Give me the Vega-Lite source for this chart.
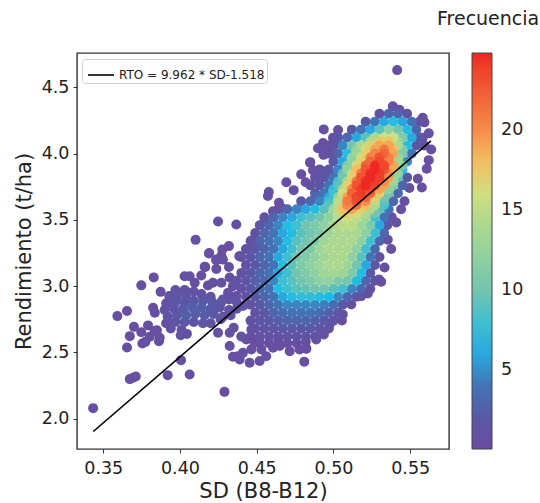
{"$schema":"https://vega.github.io/schema/vega-lite/v6.json","width":372,"height":396,"autosize":"none","padding":{"left":77,"top":53,"right":91,"bottom":54},"background":"white","view":{"stroke":"#333","strokeWidth":1.4},
"title":{"text":"Frecuencia","anchor":"start","frame":"group","dx":360,"offset":24,"fontSize":19,"fontWeight":"normal","font":"DejaVu Sans","color":"#222"},
"config":{"font":"DejaVu Sans"},
"layer":[
{"data":{"values":[
{"sd":0.3434,"rto":2.08,"f":0.5},{"sd":0.429,"rto":2.203,"f":0.5},{"sd":0.4063,"rto":2.334,"f":0.5},{"sd":0.392,"rto":2.329,"f":0.5},{"sd":0.3712,"rto":2.319,"f":0.5},{"sd":0.3694,"rto":2.309,"f":0.5},{"sd":0.3673,"rto":2.299,"f":0.5},{"sd":0.4007,"rto":2.442,"f":0.5},{"sd":0.481,"rto":2.43,"f":0.5},{"sd":0.3655,"rto":2.538,"f":0.5},{"sd":0.3755,"rto":2.567,"f":0.5},{"sd":0.3775,"rto":2.58,"f":0.5},{"sd":0.3863,"rto":2.585,"f":0.5},{"sd":0.3868,"rto":2.61,"f":0.5},{"sd":0.3673,"rto":2.623,"f":0.5},{"sd":0.3592,"rto":2.774,"f":0.5},{"sd":0.3655,"rto":2.812,"f":0.5},{"sd":0.37,"rto":2.693,"f":0.5},{"sd":0.3792,"rto":2.704,"f":0.5},{"sd":0.3748,"rto":2.653,"f":0.5},{"sd":0.3803,"rto":2.618,"f":0.5},{"sd":0.3835,"rto":2.661,"f":0.5},{"sd":0.385,"rto":2.668,"f":0.5},{"sd":0.3825,"rto":2.837,"f":0.5},{"sd":0.3836,"rto":2.8,"f":0.5},{"sd":0.3748,"rto":3.006,"f":0.5},{"sd":0.3829,"rto":3.066,"f":0.5},{"sd":0.3874,"rto":2.957,"f":0.5},
{"sd":0.397,"rto":2.97,"f":1},{"sd":0.403,"rto":2.97,"f":1},{"sd":0.393,"rto":2.925,"f":1},{"sd":0.398,"rto":2.925,"f":1.5},{"sd":0.404,"rto":2.93,"f":1.5},{"sd":0.409,"rto":2.96,"f":1},{"sd":0.414,"rto":2.94,"f":1},{"sd":0.42,"rto":2.92,"f":1},{"sd":0.391,"rto":2.87,"f":1},{"sd":0.397,"rto":2.88,"f":1.5},{"sd":0.403,"rto":2.88,"f":2},{"sd":0.409,"rto":2.89,"f":2},{"sd":0.415,"rto":2.89,"f":2},{"sd":0.421,"rto":2.88,"f":2},{"sd":0.427,"rto":2.88,"f":1.5},{"sd":0.432,"rto":2.9,"f":1},{"sd":0.437,"rto":2.88,"f":1.2},{"sd":0.441,"rto":2.85,"f":1.5},{"sd":0.39,"rto":2.82,"f":1},{"sd":0.396,"rto":2.83,"f":1.5},{"sd":0.402,"rto":2.83,"f":2.2},{"sd":0.408,"rto":2.84,"f":2.5},{"sd":0.414,"rto":2.84,"f":2.5},{"sd":0.42,"rto":2.83,"f":2.2},{"sd":0.426,"rto":2.84,"f":1.5},{"sd":0.432,"rto":2.82,"f":1},{"sd":0.437,"rto":2.83,"f":1.2},{"sd":0.392,"rto":2.77,"f":1.2},{"sd":0.398,"rto":2.78,"f":2},{"sd":0.404,"rto":2.78,"f":2.5},{"sd":0.41,"rto":2.79,"f":2.3},{"sd":0.416,"rto":2.78,"f":2.3},{"sd":0.422,"rto":2.79,"f":1.8},{"sd":0.428,"rto":2.77,"f":1.1},{"sd":0.433,"rto":2.78,"f":1},{"sd":0.391,"rto":2.72,"f":1},{"sd":0.397,"rto":2.73,"f":1.5},{"sd":0.403,"rto":2.73,"f":1.8},{"sd":0.409,"rto":2.73,"f":1.5},{"sd":0.415,"rto":2.72,"f":1.5},{"sd":0.42,"rto":2.72,"f":1.2},{"sd":0.4265,"rto":2.75,"f":1},{"sd":0.394,"rto":2.68,"f":1},{"sd":0.401,"rto":2.67,"f":1},{"sd":0.4045,"rto":2.64,"f":1},{"sd":0.4005,"rto":2.63,"f":1},
{"sd":0.403,"rto":3.075,"f":0.7},{"sd":0.4063,"rto":3.075,"f":0.7},{"sd":0.4096,"rto":3.025,"f":0.7},{"sd":0.4139,"rto":3.08,"f":0.7},{"sd":0.4165,"rto":3.145,"f":0.7},{"sd":0.419,"rto":3.25,"f":0.7},{"sd":0.4237,"rto":3.13,"f":0.7},{"sd":0.4319,"rto":3.145,"f":0.7},{"sd":0.427,"rto":3.23,"f":0.7},{"sd":0.4388,"rto":3.226,"f":0.7},{"sd":0.427,"rto":3.025,"f":0.7},{"sd":0.4324,"rto":3.065,"f":0.7},{"sd":0.4182,"rto":3.005,"f":0.7},{"sd":0.4041,"rto":2.96,"f":0.7},{"sd":0.4237,"rto":3.2,"f":0.7},{"sd":0.4215,"rto":3.025,"f":0.7},{"sd":0.4345,"rto":3.0,"f":0.7},{"sd":0.4313,"rto":2.95,"f":0.7},{"sd":0.4367,"rto":2.925,"f":0.8},{"sd":0.428,"rto":2.9,"f":1},
{"sd":0.4248,"rto":2.648,"f":0.5},{"sd":0.4324,"rto":2.648,"f":0.5},{"sd":0.435,"rto":2.686,"f":0.5},{"sd":0.4324,"rto":2.548,"f":0.5},{"sd":0.4345,"rto":2.467,"f":0.5},{"sd":0.4378,"rto":2.472,"f":0.5},{"sd":0.4389,"rto":2.447,"f":0.5},{"sd":0.4454,"rto":2.422,"f":0.5},{"sd":0.4519,"rto":2.435,"f":0.5},{"sd":0.4562,"rto":2.472,"f":0.5},{"sd":0.4606,"rto":2.535,"f":0.5},{"sd":0.465,"rto":2.548,"f":0.5},{"sd":0.4715,"rto":2.51,"f":0.5},{"sd":0.4779,"rto":2.523,"f":0.5},{"sd":0.4823,"rto":2.528,"f":0.5},{"sd":0.441,"rto":2.497,"f":0.5},{"sd":0.4465,"rto":2.523,"f":0.5},{"sd":0.4486,"rto":2.573,"f":0.5},{"sd":0.4399,"rto":2.62,"f":0.5},{"sd":0.4465,"rto":2.673,"f":0.5},{"sd":0.4432,"rto":2.598,"f":0.5},{"sd":0.4888,"rto":2.598,"f":0.5},{"sd":0.453,"rto":2.523,"f":0.5},{"sd":0.452,"rto":2.58,"f":0.5},{"sd":0.458,"rto":2.57,"f":0.5},{"sd":0.464,"rto":2.59,"f":0.5},{"sd":0.47,"rto":2.57,"f":0.5},{"sd":0.476,"rto":2.57,"f":0.6},{"sd":0.482,"rto":2.58,"f":0.6},
{"sd":0.4102,"rto":3.349,"f":0.5},{"sd":0.4248,"rto":3.487,"f":0.5},{"sd":0.4367,"rto":3.465,"f":0.5},{"sd":0.4189,"rto":3.246,"f":0.5},{"sd":0.4276,"rto":3.276,"f":0.5},{"sd":0.4319,"rto":3.302,"f":0.5},{"sd":0.4236,"rto":3.196,"f":0.5},{"sd":0.428,"rto":3.2,"f":0.5},{"sd":0.4161,"rto":3.146,"f":0.5},{"sd":0.4388,"rto":3.226,"f":0.5},{"sd":0.4471,"rto":3.347,"f":0.5},{"sd":0.4465,"rto":3.289,"f":0.5},{"sd":0.4515,"rto":3.33,"f":0.5},{"sd":0.4573,"rto":3.68,"f":0.5},{"sd":0.4579,"rto":3.709,"f":0.5},{"sd":0.4645,"rto":3.628,"f":0.5},{"sd":0.4606,"rto":3.565,"f":0.5},{"sd":0.4671,"rto":3.583,"f":0.5},{"sd":0.4551,"rto":3.49,"f":0.5},{"sd":0.4693,"rto":3.784,"f":0.5},{"sd":0.4741,"rto":3.724,"f":0.5},{"sd":0.479,"rto":3.843,"f":0.5},{"sd":0.4819,"rto":3.784,"f":0.5},{"sd":0.4848,"rto":3.93,"f":0.5},{"sd":0.4866,"rto":3.875,"f":0.5},{"sd":0.4899,"rto":4.04,"f":0.5},{"sd":0.4932,"rto":4.08,"f":0.5},{"sd":0.4884,"rto":3.68,"f":3},{"sd":0.4768,"rto":3.578,"f":4.5},
{"sd":0.5415,"rto":4.629,"f":0.5},{"sd":0.4937,"rto":4.182,"f":0.5},{"sd":0.503,"rto":4.177,"f":0.5},{"sd":0.4997,"rto":4.119,"f":0.5},{"sd":0.492,"rto":4.036,"f":0.5},{"sd":0.4965,"rto":4.06,"f":0.5},{"sd":0.5012,"rto":4.07,"f":0.5},{"sd":0.4849,"rto":3.935,"f":0.5},{"sd":0.4887,"rto":3.817,"f":0.5},{"sd":0.4931,"rto":3.867,"f":0.5},{"sd":0.4899,"rto":3.679,"f":2.5},{"sd":0.4975,"rto":3.85,"f":1.5},{"sd":0.4935,"rto":3.99,"f":0.7},{"sd":0.4985,"rto":4.0,"f":0.7},
{"sd":0.5582,"rto":4.269,"f":0.5},{"sd":0.5593,"rto":4.235,"f":0.5},{"sd":0.5621,"rto":4.152,"f":0.5},{"sd":0.5582,"rto":4.119,"f":0.5},{"sd":0.5637,"rto":4.03,"f":0.5},{"sd":0.5593,"rto":4.06,"f":0.5},{"sd":0.5621,"rto":3.95,"f":0.5},{"sd":0.5608,"rto":3.885,"f":0.5},{"sd":0.555,"rto":3.81,"f":0.5},{"sd":0.5576,"rto":3.744,"f":0.5},{"sd":0.5495,"rto":3.74,"f":0.7},{"sd":0.5463,"rto":3.64,"f":0.7},{"sd":0.5441,"rto":3.58,"f":0.7},{"sd":0.5409,"rto":3.48,"f":0.7},{"sd":0.5376,"rto":3.28,"f":0.5},{"sd":0.5354,"rto":3.35,"f":0.7},{"sd":0.5333,"rto":3.14,"f":0.5},{"sd":0.5387,"rto":4.357,"f":0.5},{"sd":0.543,"rto":4.33,"f":0.5},{"sd":0.5311,"rto":3.033,"f":0.5},{"sd":0.5297,"rto":3.05,"f":0.5},{"sd":0.5224,"rto":2.945,"f":0.5},{"sd":0.5181,"rto":2.925,"f":0.5},{"sd":0.5116,"rto":2.862,"f":0.7},{"sd":0.5061,"rto":2.787,"f":0.5},{"sd":0.5055,"rto":2.741,"f":0.5},{"sd":0.4975,"rto":2.711,"f":0.5},{"sd":0.4938,"rto":2.636,"f":0.5},{"sd":0.4823,"rto":2.53,"f":0.5},
{"sd":0.53,"rto":4.3,"f":1},{"sd":0.536,"rto":4.3,"f":3},{"sd":0.542,"rto":4.3,"f":3},{"sd":0.548,"rto":4.3,"f":1},
{"sd":0.521,"rto":4.24,"f":2},{"sd":0.527,"rto":4.24,"f":4},{"sd":0.533,"rto":4.24,"f":6},{"sd":0.539,"rto":4.24,"f":7},{"sd":0.545,"rto":4.24,"f":6},{"sd":0.551,"rto":4.24,"f":4},{"sd":0.556,"rto":4.24,"f":1},
{"sd":0.512,"rto":4.18,"f":2},{"sd":0.518,"rto":4.18,"f":4},{"sd":0.524,"rto":4.18,"f":6},{"sd":0.53,"rto":4.18,"f":9},{"sd":0.536,"rto":4.18,"f":12},{"sd":0.542,"rto":4.18,"f":10},{"sd":0.548,"rto":4.18,"f":7},{"sd":0.554,"rto":4.18,"f":3},
{"sd":0.503,"rto":4.12,"f":2},{"sd":0.509,"rto":4.12,"f":3},{"sd":0.515,"rto":4.12,"f":6},{"sd":0.521,"rto":4.12,"f":9},{"sd":0.527,"rto":4.12,"f":14},{"sd":0.533,"rto":4.12,"f":16},{"sd":0.539,"rto":4.12,"f":16},{"sd":0.545,"rto":4.12,"f":11},{"sd":0.551,"rto":4.12,"f":6},{"sd":0.556,"rto":4.12,"f":2},
{"sd":0.5,"rto":4.06,"f":1},{"sd":0.506,"rto":4.06,"f":5},{"sd":0.512,"rto":4.06,"f":10},{"sd":0.518,"rto":4.06,"f":14},{"sd":0.524,"rto":4.06,"f":17},{"sd":0.53,"rto":4.06,"f":19},{"sd":0.536,"rto":4.06,"f":19},{"sd":0.542,"rto":4.06,"f":14},{"sd":0.548,"rto":4.06,"f":7},{"sd":0.554,"rto":4.06,"f":2},
{"sd":0.497,"rto":4.0,"f":1},{"sd":0.503,"rto":4.0,"f":3},{"sd":0.509,"rto":4.0,"f":7},{"sd":0.515,"rto":4.0,"f":13},{"sd":0.521,"rto":4.0,"f":17},{"sd":0.527,"rto":4.0,"f":20.5},{"sd":0.533,"rto":4.0,"f":22},{"sd":0.539,"rto":4.0,"f":19},{"sd":0.545,"rto":4.0,"f":11},{"sd":0.551,"rto":4.0,"f":4},
{"sd":0.5,"rto":3.94,"f":2},{"sd":0.506,"rto":3.94,"f":6},{"sd":0.512,"rto":3.94,"f":12},{"sd":0.518,"rto":3.94,"f":17},{"sd":0.524,"rto":3.94,"f":22},{"sd":0.53,"rto":3.94,"f":23.5},{"sd":0.536,"rto":3.94,"f":20.5},{"sd":0.542,"rto":3.94,"f":13},{"sd":0.548,"rto":3.94,"f":5},
{"sd":0.491,"rto":3.88,"f":1},{"sd":0.497,"rto":3.88,"f":2},{"sd":0.503,"rto":3.88,"f":5},{"sd":0.509,"rto":3.88,"f":12},{"sd":0.515,"rto":3.88,"f":18},{"sd":0.521,"rto":3.88,"f":23},{"sd":0.527,"rto":3.88,"f":24.7},{"sd":0.533,"rto":3.88,"f":23},{"sd":0.539,"rto":3.88,"f":17},{"sd":0.545,"rto":3.88,"f":7},
{"sd":0.488,"rto":3.82,"f":1},{"sd":0.494,"rto":3.82,"f":2},{"sd":0.5,"rto":3.82,"f":4},{"sd":0.506,"rto":3.82,"f":10},{"sd":0.512,"rto":3.82,"f":17},{"sd":0.518,"rto":3.82,"f":23},{"sd":0.524,"rto":3.82,"f":24.7},{"sd":0.53,"rto":3.82,"f":24},{"sd":0.536,"rto":3.82,"f":19},{"sd":0.542,"rto":3.82,"f":9},{"sd":0.548,"rto":3.82,"f":2},
{"sd":0.485,"rto":3.76,"f":1},{"sd":0.491,"rto":3.76,"f":2},{"sd":0.497,"rto":3.76,"f":4},{"sd":0.503,"rto":3.76,"f":9},{"sd":0.509,"rto":3.76,"f":17},{"sd":0.515,"rto":3.76,"f":23},{"sd":0.521,"rto":3.76,"f":24.7},{"sd":0.527,"rto":3.76,"f":23},{"sd":0.533,"rto":3.76,"f":19},{"sd":0.539,"rto":3.76,"f":11},{"sd":0.545,"rto":3.76,"f":3},
{"sd":0.488,"rto":3.7,"f":2},{"sd":0.494,"rto":3.7,"f":4},{"sd":0.5,"rto":3.7,"f":8},{"sd":0.506,"rto":3.7,"f":16},{"sd":0.512,"rto":3.7,"f":22},{"sd":0.518,"rto":3.7,"f":24},{"sd":0.524,"rto":3.7,"f":22},{"sd":0.53,"rto":3.7,"f":17},{"sd":0.536,"rto":3.7,"f":10},{"sd":0.542,"rto":3.7,"f":3},
{"sd":0.479,"rto":3.64,"f":2},{"sd":0.485,"rto":3.64,"f":3},{"sd":0.491,"rto":3.64,"f":5},{"sd":0.497,"rto":3.64,"f":8},{"sd":0.503,"rto":3.64,"f":15},{"sd":0.509,"rto":3.64,"f":21},{"sd":0.515,"rto":3.64,"f":23},{"sd":0.521,"rto":3.64,"f":20},{"sd":0.527,"rto":3.64,"f":15},{"sd":0.533,"rto":3.64,"f":9},{"sd":0.539,"rto":3.64,"f":3},
{"sd":0.464,"rto":3.58,"f":1},{"sd":0.47,"rto":3.58,"f":3},{"sd":0.476,"rto":3.58,"f":5},{"sd":0.482,"rto":3.58,"f":6},{"sd":0.488,"rto":3.58,"f":7},{"sd":0.494,"rto":3.58,"f":9},{"sd":0.5,"rto":3.58,"f":13},{"sd":0.506,"rto":3.58,"f":18},{"sd":0.512,"rto":3.58,"f":19},{"sd":0.518,"rto":3.58,"f":17},{"sd":0.524,"rto":3.58,"f":14},{"sd":0.53,"rto":3.58,"f":9},{"sd":0.536,"rto":3.58,"f":4},
{"sd":0.455,"rto":3.52,"f":1},{"sd":0.461,"rto":3.52,"f":3},{"sd":0.467,"rto":3.52,"f":5},{"sd":0.473,"rto":3.52,"f":6},{"sd":0.479,"rto":3.52,"f":8},{"sd":0.485,"rto":3.52,"f":9},{"sd":0.491,"rto":3.52,"f":10},{"sd":0.497,"rto":3.52,"f":12},{"sd":0.503,"rto":3.52,"f":15},{"sd":0.509,"rto":3.52,"f":16},{"sd":0.515,"rto":3.52,"f":15},{"sd":0.521,"rto":3.52,"f":13},{"sd":0.527,"rto":3.52,"f":8},{"sd":0.533,"rto":3.52,"f":4},{"sd":0.538,"rto":3.52,"f":1},
{"sd":0.452,"rto":3.46,"f":2},{"sd":0.458,"rto":3.46,"f":3},{"sd":0.464,"rto":3.46,"f":5},{"sd":0.47,"rto":3.46,"f":7},{"sd":0.476,"rto":3.46,"f":8},{"sd":0.482,"rto":3.46,"f":10},{"sd":0.488,"rto":3.46,"f":11},{"sd":0.494,"rto":3.46,"f":12},{"sd":0.5,"rto":3.46,"f":14},{"sd":0.506,"rto":3.46,"f":15},{"sd":0.512,"rto":3.46,"f":15},{"sd":0.518,"rto":3.46,"f":13},{"sd":0.524,"rto":3.46,"f":11},{"sd":0.53,"rto":3.46,"f":6},{"sd":0.535,"rto":3.46,"f":2},
{"sd":0.449,"rto":3.4,"f":1},{"sd":0.455,"rto":3.4,"f":3},{"sd":0.461,"rto":3.4,"f":4},{"sd":0.467,"rto":3.4,"f":6},{"sd":0.473,"rto":3.4,"f":7},{"sd":0.479,"rto":3.4,"f":9},{"sd":0.485,"rto":3.4,"f":10},{"sd":0.491,"rto":3.4,"f":11},{"sd":0.497,"rto":3.4,"f":13},{"sd":0.503,"rto":3.4,"f":14},{"sd":0.509,"rto":3.4,"f":14},{"sd":0.515,"rto":3.4,"f":14},{"sd":0.521,"rto":3.4,"f":12},{"sd":0.527,"rto":3.4,"f":8},{"sd":0.533,"rto":3.4,"f":3},
{"sd":0.446,"rto":3.34,"f":1},{"sd":0.452,"rto":3.34,"f":3},{"sd":0.458,"rto":3.34,"f":4},{"sd":0.464,"rto":3.34,"f":5},{"sd":0.47,"rto":3.34,"f":7},{"sd":0.476,"rto":3.34,"f":9},{"sd":0.482,"rto":3.34,"f":10},{"sd":0.488,"rto":3.34,"f":11},{"sd":0.494,"rto":3.34,"f":13},{"sd":0.5,"rto":3.34,"f":14},{"sd":0.506,"rto":3.34,"f":14},{"sd":0.512,"rto":3.34,"f":14},{"sd":0.518,"rto":3.34,"f":12},{"sd":0.524,"rto":3.34,"f":8},{"sd":0.53,"rto":3.34,"f":3},
{"sd":0.443,"rto":3.28,"f":1},{"sd":0.449,"rto":3.28,"f":2},{"sd":0.455,"rto":3.28,"f":3},{"sd":0.461,"rto":3.28,"f":4},{"sd":0.467,"rto":3.28,"f":6},{"sd":0.473,"rto":3.28,"f":8},{"sd":0.479,"rto":3.28,"f":10},{"sd":0.485,"rto":3.28,"f":11},{"sd":0.491,"rto":3.28,"f":13},{"sd":0.497,"rto":3.28,"f":14},{"sd":0.503,"rto":3.28,"f":14},{"sd":0.509,"rto":3.28,"f":14},{"sd":0.515,"rto":3.28,"f":12},{"sd":0.521,"rto":3.28,"f":8},{"sd":0.527,"rto":3.28,"f":3},
{"sd":0.44,"rto":3.22,"f":1},{"sd":0.446,"rto":3.22,"f":2},{"sd":0.452,"rto":3.22,"f":3},{"sd":0.458,"rto":3.22,"f":4},{"sd":0.464,"rto":3.22,"f":6},{"sd":0.47,"rto":3.22,"f":8},{"sd":0.476,"rto":3.22,"f":10},{"sd":0.482,"rto":3.22,"f":11},{"sd":0.488,"rto":3.22,"f":12},{"sd":0.494,"rto":3.22,"f":13},{"sd":0.5,"rto":3.22,"f":14},{"sd":0.506,"rto":3.22,"f":14},{"sd":0.512,"rto":3.22,"f":12},{"sd":0.518,"rto":3.22,"f":9},{"sd":0.524,"rto":3.22,"f":4},{"sd":0.53,"rto":3.22,"f":1},
{"sd":0.443,"rto":3.16,"f":1},{"sd":0.449,"rto":3.16,"f":2},{"sd":0.455,"rto":3.16,"f":3},{"sd":0.461,"rto":3.16,"f":4},{"sd":0.467,"rto":3.16,"f":7},{"sd":0.473,"rto":3.16,"f":9},{"sd":0.479,"rto":3.16,"f":11},{"sd":0.485,"rto":3.16,"f":12},{"sd":0.491,"rto":3.16,"f":13},{"sd":0.497,"rto":3.16,"f":14},{"sd":0.503,"rto":3.16,"f":14},{"sd":0.509,"rto":3.16,"f":13},{"sd":0.515,"rto":3.16,"f":10},{"sd":0.521,"rto":3.16,"f":6},{"sd":0.527,"rto":3.16,"f":2},
{"sd":0.44,"rto":3.1,"f":1},{"sd":0.446,"rto":3.1,"f":2},{"sd":0.452,"rto":3.1,"f":3},{"sd":0.458,"rto":3.1,"f":4},{"sd":0.464,"rto":3.1,"f":6},{"sd":0.47,"rto":3.1,"f":8},{"sd":0.476,"rto":3.1,"f":10},{"sd":0.482,"rto":3.1,"f":11},{"sd":0.488,"rto":3.1,"f":12},{"sd":0.494,"rto":3.1,"f":13},{"sd":0.5,"rto":3.1,"f":13.5},{"sd":0.506,"rto":3.1,"f":13},{"sd":0.512,"rto":3.1,"f":11},{"sd":0.518,"rto":3.1,"f":7},{"sd":0.524,"rto":3.1,"f":2},
{"sd":0.437,"rto":3.04,"f":1},{"sd":0.443,"rto":3.04,"f":1.5},{"sd":0.449,"rto":3.04,"f":2.5},{"sd":0.455,"rto":3.04,"f":3},{"sd":0.461,"rto":3.04,"f":5},{"sd":0.467,"rto":3.04,"f":8},{"sd":0.473,"rto":3.04,"f":9},{"sd":0.479,"rto":3.04,"f":10},{"sd":0.485,"rto":3.04,"f":11},{"sd":0.491,"rto":3.04,"f":12},{"sd":0.497,"rto":3.04,"f":12},{"sd":0.503,"rto":3.04,"f":11},{"sd":0.509,"rto":3.04,"f":10},{"sd":0.515,"rto":3.04,"f":7},{"sd":0.521,"rto":3.04,"f":3},{"sd":0.527,"rto":3.04,"f":1},
{"sd":0.44,"rto":2.98,"f":1},{"sd":0.446,"rto":2.98,"f":2},{"sd":0.452,"rto":2.98,"f":3},{"sd":0.458,"rto":2.98,"f":4},{"sd":0.464,"rto":2.98,"f":7},{"sd":0.47,"rto":2.98,"f":8},{"sd":0.476,"rto":2.98,"f":9},{"sd":0.482,"rto":2.98,"f":9.5},{"sd":0.488,"rto":2.98,"f":10},{"sd":0.494,"rto":2.98,"f":10},{"sd":0.5,"rto":2.98,"f":9},{"sd":0.506,"rto":2.98,"f":8},{"sd":0.512,"rto":2.98,"f":5},{"sd":0.518,"rto":2.98,"f":3},{"sd":0.524,"rto":2.98,"f":1},
{"sd":0.443,"rto":2.92,"f":1},{"sd":0.449,"rto":2.92,"f":2},{"sd":0.455,"rto":2.92,"f":3},{"sd":0.461,"rto":2.92,"f":4},{"sd":0.467,"rto":2.92,"f":6},{"sd":0.473,"rto":2.92,"f":7},{"sd":0.479,"rto":2.92,"f":7.5},{"sd":0.485,"rto":2.92,"f":7.5},{"sd":0.491,"rto":2.92,"f":7},{"sd":0.497,"rto":2.92,"f":6.5},{"sd":0.503,"rto":2.92,"f":5},{"sd":0.509,"rto":2.92,"f":3},{"sd":0.515,"rto":2.92,"f":1.5},
{"sd":0.446,"rto":2.86,"f":1},{"sd":0.452,"rto":2.86,"f":2},{"sd":0.458,"rto":2.86,"f":3},{"sd":0.464,"rto":2.86,"f":4},{"sd":0.47,"rto":2.86,"f":5},{"sd":0.476,"rto":2.86,"f":5},{"sd":0.482,"rto":2.86,"f":5},{"sd":0.488,"rto":2.86,"f":5},{"sd":0.494,"rto":2.86,"f":4.5},{"sd":0.5,"rto":2.86,"f":3.5},{"sd":0.506,"rto":2.86,"f":2},
{"sd":0.449,"rto":2.8,"f":1},{"sd":0.455,"rto":2.8,"f":2},{"sd":0.461,"rto":2.8,"f":3},{"sd":0.467,"rto":2.8,"f":3.5},{"sd":0.473,"rto":2.8,"f":4},{"sd":0.479,"rto":2.8,"f":4},{"sd":0.485,"rto":2.8,"f":4},{"sd":0.491,"rto":2.8,"f":3.5},{"sd":0.497,"rto":2.8,"f":2.5},{"sd":0.503,"rto":2.8,"f":1.5},
{"sd":0.446,"rto":2.74,"f":1},{"sd":0.452,"rto":2.74,"f":1.5},{"sd":0.458,"rto":2.74,"f":2},{"sd":0.464,"rto":2.74,"f":2.5},{"sd":0.47,"rto":2.74,"f":3},{"sd":0.476,"rto":2.74,"f":3},{"sd":0.482,"rto":2.74,"f":3},{"sd":0.488,"rto":2.74,"f":2.5},{"sd":0.494,"rto":2.74,"f":2},{"sd":0.5,"rto":2.74,"f":1.2},
{"sd":0.449,"rto":2.68,"f":1},{"sd":0.455,"rto":2.68,"f":1.2},{"sd":0.461,"rto":2.68,"f":1.5},{"sd":0.467,"rto":2.68,"f":2},{"sd":0.473,"rto":2.68,"f":2},{"sd":0.479,"rto":2.68,"f":2},{"sd":0.485,"rto":2.68,"f":2},{"sd":0.491,"rto":2.68,"f":1.5},{"sd":0.497,"rto":2.68,"f":1},
{"sd":0.446,"rto":2.62,"f":0.6},{"sd":0.452,"rto":2.62,"f":1},{"sd":0.458,"rto":2.62,"f":1},{"sd":0.464,"rto":2.62,"f":1},{"sd":0.47,"rto":2.62,"f":1},{"sd":0.476,"rto":2.62,"f":1.2},{"sd":0.482,"rto":2.62,"f":1.2},{"sd":0.488,"rto":2.62,"f":1},
{"sd":0.524,"rto":4.09,"f":14},{"sd":0.53,"rto":4.09,"f":17.5},{"sd":0.536,"rto":4.09,"f":17.5},{"sd":0.542,"rto":4.09,"f":12.5},
{"sd":0.515,"rto":4.03,"f":12},{"sd":0.521,"rto":4.03,"f":16},{"sd":0.527,"rto":4.03,"f":19},{"sd":0.533,"rto":4.03,"f":21},{"sd":0.539,"rto":4.03,"f":18},{"sd":0.545,"rto":4.03,"f":11},
{"sd":0.512,"rto":3.97,"f":12},{"sd":0.518,"rto":3.97,"f":16},{"sd":0.524,"rto":3.97,"f":20.5},{"sd":0.53,"rto":3.97,"f":23},{"sd":0.536,"rto":3.97,"f":20.5},{"sd":0.542,"rto":3.97,"f":13},
{"sd":0.509,"rto":3.91,"f":11},{"sd":0.515,"rto":3.91,"f":16},{"sd":0.521,"rto":3.91,"f":22},{"sd":0.527,"rto":3.91,"f":24.5},{"sd":0.533,"rto":3.91,"f":23.5},{"sd":0.539,"rto":3.91,"f":19},{"sd":0.545,"rto":3.91,"f":10},
{"sd":0.506,"rto":3.85,"f":9},{"sd":0.512,"rto":3.85,"f":15},{"sd":0.518,"rto":3.85,"f":21},{"sd":0.524,"rto":3.85,"f":24.5},{"sd":0.53,"rto":3.85,"f":24},{"sd":0.536,"rto":3.85,"f":20},{"sd":0.542,"rto":3.85,"f":12},
{"sd":0.503,"rto":3.79,"f":8},{"sd":0.509,"rto":3.79,"f":14},{"sd":0.515,"rto":3.79,"f":21},{"sd":0.521,"rto":3.79,"f":24.5},{"sd":0.527,"rto":3.79,"f":24},{"sd":0.533,"rto":3.79,"f":20},{"sd":0.539,"rto":3.79,"f":13},
{"sd":0.5,"rto":3.73,"f":7},{"sd":0.506,"rto":3.73,"f":13},{"sd":0.512,"rto":3.73,"f":20},{"sd":0.518,"rto":3.73,"f":24},{"sd":0.524,"rto":3.73,"f":23.5},{"sd":0.53,"rto":3.73,"f":19},{"sd":0.536,"rto":3.73,"f":12},
{"sd":0.497,"rto":3.67,"f":6},{"sd":0.503,"rto":3.67,"f":12},{"sd":0.509,"rto":3.67,"f":19},{"sd":0.515,"rto":3.67,"f":23.5},{"sd":0.521,"rto":3.67,"f":22},{"sd":0.527,"rto":3.67,"f":17},{"sd":0.533,"rto":3.67,"f":10},
{"sd":0.497,"rto":3.61,"f":9},{"sd":0.503,"rto":3.61,"f":15},{"sd":0.509,"rto":3.61,"f":20},{"sd":0.515,"rto":3.61,"f":21},{"sd":0.521,"rto":3.61,"f":18},{"sd":0.527,"rto":3.61,"f":14},{"sd":0.533,"rto":3.61,"f":8},
{"sd":0.503,"rto":3.55,"f":15},{"sd":0.509,"rto":3.55,"f":17},{"sd":0.515,"rto":3.55,"f":16.5},{"sd":0.521,"rto":3.55,"f":14},{"sd":0.527,"rto":3.55,"f":10}
]},
"mark":{"type":"point","filled":true,"size":100,"opacity":1,"stroke":null},
"encoding":{
"x":{"field":"sd","type":"quantitative","scale":{"domain":[0.3329,0.5753],"nice":false,"zero":false},"axis":{"values":[0.35,0.4,0.45,0.5,0.55],"format":".2f","grid":false,"domain":false,"tickColor":"#333","tickSize":4,"labelFontSize":17.5,"labelColor":"#222","labelPadding":6,"title":"SD (B8-B12)","titleFontSize":21,"titleFontWeight":"normal","titleColor":"#222","titlePadding":4}},
"y":{"field":"rto","type":"quantitative","scale":{"domain":[1.772,4.758],"nice":false,"zero":false},"axis":{"values":[2,2.5,3,3.5,4,4.5],"format":".1f","grid":false,"domain":false,"tickColor":"#333","tickSize":4,"labelFontSize":17.5,"labelColor":"#222","labelPadding":4,"title":"Rendimiento (t/ha)","titleFontSize":21,"titleFontWeight":"normal","titleColor":"#222","titlePadding":7}},
"order":{"field":"f","type":"quantitative","sort":"ascending"},
"fill":{"field":"f","type":"quantitative","scale":{"domain":[0.09,2,3.8,5.2,6.5,8,10,12.5,14.8,16.2,18.1,20,21.9,24.77],"range":["#6b4c9f","#5a58a5","#4470b2","#3a88c4","#18bcec","#3fbfd0","#74c4b0","#98d49c","#b8da8a","#d2df80","#f5bc60","#f58c4a","#f2663a","#ee2424"],"clamp":true},"legend":{"type":"gradient","orient":"none","legendX":395,"legendY":0,"direction":"vertical","gradientLength":396,"gradientThickness":20,"gradientStrokeColor":"#444","gradientStrokeWidth":1,"values":[5,10,15,20],"title":null,"labelFontSize":17.5,"labelColor":"#222","labelOffset":9,"labelOverlap":false,"padding":0}}
}},
{"data":{"values":[{"sd":0.3435,"rto":1.904,"label":"RTO = 9.962 * SD-1.518"},{"sd":0.5635,"rto":4.096,"label":"RTO = 9.962 * SD-1.518"}]},
"mark":{"type":"line","strokeWidth":1.6},
"encoding":{
"x":{"field":"sd","type":"quantitative"},
"y":{"field":"rto","type":"quantitative"},
"stroke":{"field":"label","type":"nominal","scale":{"range":["#000000"]},"legend":{"orient":"none","legendX":5,"legendY":6,"title":null,"symbolType":"stroke","symbolSize":676,"symbolStrokeWidth":1.6,"symbolOffset":3,"labelFontSize":12,"labelColor":"#222","fillColor":"white","strokeColor":"#d0d0d0","cornerRadius":3,"padding":2,"labelLimit":260}}
}}
]}
